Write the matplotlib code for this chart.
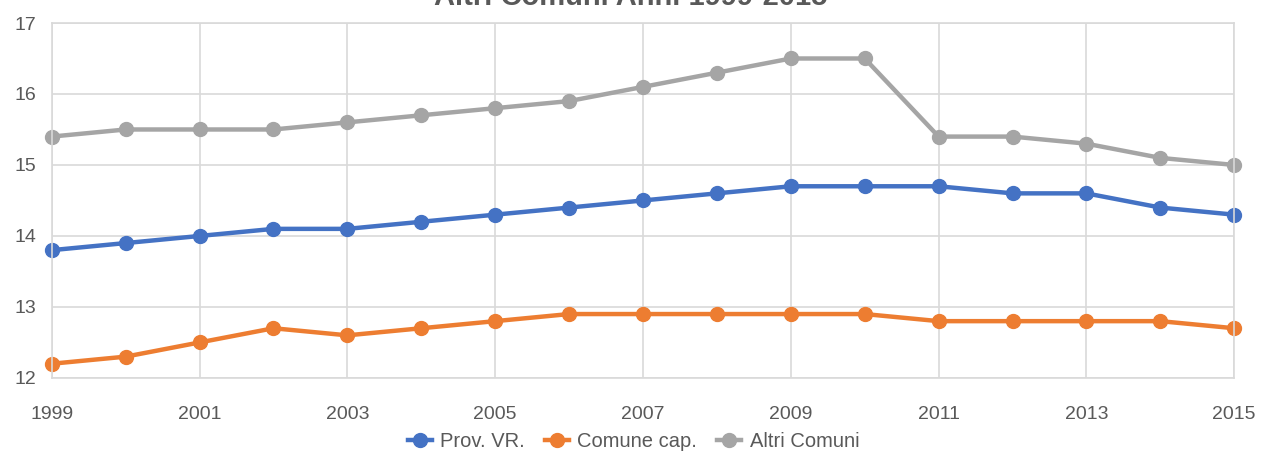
import matplotlib.pyplot as plt

plt.rcParams['font.family'] = ['Liberation Sans', 'DejaVu Sans']

# 数据
anni = list(range(1999, 2016))
prov_vr = [13.8, 13.9, 14.0, 14.1, 14.1, 14.2, 14.3, 14.4, 14.5, 14.6, 14.7, 14.7, 14.7, 14.6, 14.6, 14.4, 14.3]
comune_cap = [12.2, 12.3, 12.5, 12.7, 12.6, 12.7, 12.8, 12.9, 12.9, 12.9, 12.9, 12.9, 12.8, 12.8, 12.8, 12.8, 12.7]
altri_comuni = [15.4, 15.5, 15.5, 15.5, 15.6, 15.7, 15.8, 15.9, 16.1, 16.3, 16.5, 16.5, 15.4, 15.4, 15.3, 15.1, 15.0]
x_ticks = list(range(1999, 2016, 2))
y_ticks = [12, 13, 14, 15, 16, 17]

fig = plt.figure(figsize=(12.62, 4.51), dpi=100)
ax = fig.add_axes([0.041, 0.162, 0.937, 0.787])

serie = [
    (prov_vr, '#4472C4', 'Prov. VR.'),
    (comune_cap, '#ED7D31', 'Comune cap.'),
    (altri_comuni, '#A5A5A5', 'Altri Comuni'),
]
for valori, colore, nome in serie:
    ax.plot(anni, valori, color=colore, linewidth=3.2, marker='o', markersize=10,
            label=nome, clip_on=False)

ax.set_xlim(1999, 2015)
ax.set_ylim(12, 17)
ax.set_xticks(x_ticks)
ax.set_yticks(y_ticks)
ax.grid(True, color='#D9D9D9', linewidth=1.2)
ax.set_axisbelow(True)
for lato in ['top', 'right', 'left', 'bottom']:
    ax.spines[lato].set_color('#D9D9D9')
    ax.spines[lato].set_linewidth(1.2)
ax.tick_params(length=0, labelsize=14, colors='#595959')
ax.tick_params(axis='x', pad=20)
ax.tick_params(axis='y', pad=11)

# 标题（原图顶部被裁切）
fig.text(0.5, 0.99, 'Altri Comuni Anni 1999-2015', ha='center', va='baseline',
         fontsize=21, fontweight='bold', color='#595959')

ax.legend(loc='center', bbox_to_anchor=(0.492, -0.178), ncol=3, frameon=False,
          fontsize=14.5, labelcolor='#595959', handlelength=1.2, columnspacing=1.0,
          handletextpad=0.4, borderpad=0.1)

plt.savefig('out.png', dpi=100)
